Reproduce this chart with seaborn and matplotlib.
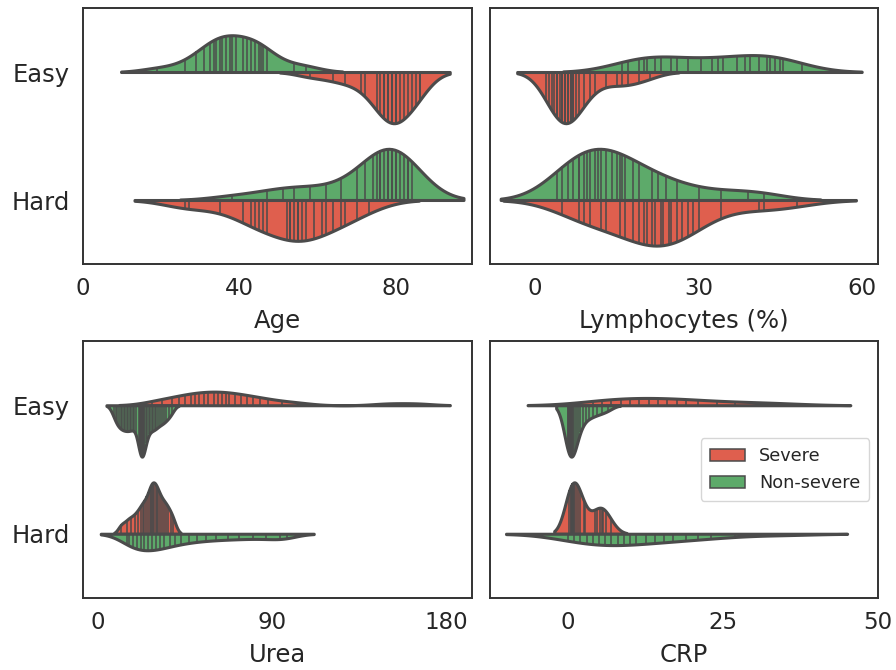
import matplotlib
matplotlib.use("Agg")
import matplotlib.pyplot as plt
from matplotlib.patches import Patch
import pandas as pd
import seaborn as sns

sns.set_theme(style="white", font_scale=1.5)
plt.rcParams['font.family'] = ['DejaVu Sans']

categories = ["Easy", "Hard"]
severity_levels = ["Severe", "Non-severe"]
colors = {"Severe": "#DF5F4E", "Non-severe": "#5DAA6A"}
line_gray = "#4b4b4b"

# Age
age_easy_nonsevere = [19, 26, 29, 31, 32.5, 33.5, 34, 35, 35.5, 36.5, 37.5, 38, 39, 41, 42, 43, 44, 45, 45.5, 46, 47, 54, 57]
age_easy_severe = [58, 64, 67, 71, 72, 75, 76, 77, 77, 78, 78, 79, 79, 80, 80, 81, 82, 83, 84, 85, 86, 86]
age_hard_nonsevere = [38, 47, 51, 54, 58, 62, 66, 70, 72, 74, 75, 76, 76, 77, 78, 78, 79, 79, 80, 80, 81, 82, 83, 83, 84]
age_hard_severe = [26, 27, 35, 41, 43, 44, 45, 46, 47, 52, 53, 53, 54, 55, 55, 56, 57, 59, 61, 62, 64, 66, 67, 70, 73]

# Lymphocytes (%)
lym_easy_nonsevere = [16, 17, 19, 20, 20.5, 22, 23, 25, 26, 28, 30.5, 32.5, 33.5, 34.5, 37, 38.5, 39.5, 41, 42.5, 43, 44, 45, 45.5, 49]
lym_easy_severe = [2, 2.5, 3, 3.5, 4, 4, 4.5, 5, 5, 5.5, 5.5, 6, 6, 6.5, 6.5, 7, 7, 7.5, 8, 9, 10, 11, 13, 15, 16, 17, 19, 21]
lym_hard_nonsevere = [4, 5, 6, 7, 8, 8, 9, 9.5, 10, 11, 11.5, 12, 13, 14, 15, 15.5, 16, 16.5, 18, 19, 21.5, 22.5, 24, 26, 30, 34, 39, 42]
lym_hard_severe = [5, 8, 9, 10, 12, 13, 15.5, 16.5, 18, 19, 20, 20.5, 21.5, 22, 23, 23.5, 24.5, 25, 26, 27, 28, 29, 30, 34, 41, 42, 48]

# Urea
urea_easy_severe = [28, 33, 38, 42, 45, 48, 50, 52, 55, 57, 60, 62, 64, 66, 68, 71, 74, 77, 80, 84, 88, 95, 104, 150, 165]
urea_easy_nonsevere = [8, 9.5, 10, 11, 12, 12.5, 13.5, 14, 15, 15.5, 16.5, 17, 18, 18.5, 19.5,
                       21, 21.5, 21.8, 22, 22.2, 22.4, 22.6, 22.8, 23, 23.3, 23.6, 24,
                       25, 25.5, 26.5, 27, 28, 28.5, 29.5, 30, 31, 32, 33, 34, 35, 36.5, 38]
urea_hard_severe = [12, 15, 17, 19, 20.5, 22, 23, 24, 25, 26, 27, 27.5, 28, 28.5, 29, 30, 30.5, 31, 32, 33, 34, 35, 36, 37.5, 39]
urea_hard_nonsevere = [15, 16, 18, 20, 22, 24, 26, 28, 30, 32, 34, 37, 40, 43, 47, 51, 56, 61, 67, 73, 80, 87, 94, 98]

# CRP
crp_easy_severe = [4, 5.5, 7, 8.5, 10, 11.5, 13, 14.5, 16, 17.5, 19, 21, 24, 27, 31, 35]
crp_easy_nonsevere = [0, 0, 0.1, 0.1, 0.2, 0.2, 0.3, 0.3, 0.4, 0.4, 0.5, 0.5, 0.6, 0.7, 0.8, 1.0,
                      1.3, 1.6, 2.0, 2.4, 2.9, 3.4, 4.0, 4.7, 5.5, 6.5]
crp_hard_severe = [0.2, 0.4, 0.5, 0.6, 0.7, 0.7, 0.8, 0.9, 1.0, 1.2, 1.6, 2.0, 2.5, 2.8, 4.4, 4.7, 5.1, 5.4, 5.6, 6.1, 7.0]
crp_hard_nonsevere = [0, 1, 2, 3, 4, 5, 6, 7, 8, 9, 10, 11, 12.5, 14, 15.5, 17, 19, 21, 23, 27, 35]

x_labels = ["Age", "Lymphocytes (%)", "Urea", "CRP"]
x_ticks = [[0, 40, 80], [0, 30, 60], [0, 90, 180], [0, 25, 50]]
x_limits = [(0, 99.4), (-8.3, 62.9), (-7.8, 193.5), (-12.6, 50)]


def make_frame(easy_sev, easy_non, hard_sev, hard_non):
    rows = []
    for cat, sev, vals in [("Easy", "Severe", easy_sev), ("Easy", "Non-severe", easy_non),
                           ("Hard", "Severe", hard_sev), ("Hard", "Non-severe", hard_non)]:
        rows += [(cat, sev, v) for v in vals]
    return pd.DataFrame(rows, columns=["Group", "Severity", "value"])


frames = [
    make_frame(age_easy_severe, age_easy_nonsevere, age_hard_severe, age_hard_nonsevere),
    make_frame(lym_easy_severe, lym_easy_nonsevere, lym_hard_severe, lym_hard_nonsevere),
    make_frame(urea_easy_severe, urea_easy_nonsevere, urea_hard_severe, urea_hard_nonsevere),
    make_frame(crp_easy_severe, crp_easy_nonsevere, crp_hard_severe, crp_hard_nonsevere),
]
hue_orders = [["Non-severe", "Severe"], ["Non-severe", "Severe"],
              ["Severe", "Non-severe"], ["Severe", "Non-severe"]]
bw_adjusts = [1.0, 1.0, 0.5, 1.0]

fig = plt.figure(figsize=(8.96, 6.7), dpi=100)
W, H = 896, 670
boxes = [(83, 8, 472, 264), (490, 8, 878, 264), (83, 341, 472, 598), (490, 341, 878, 598)]
axes = [fig.add_axes([l / W, 1 - b / H, (r - l) / W, (b - t) / H]) for (l, t, r, b) in boxes]

for i, ax in enumerate(axes):
    df = frames[i]
    for cat in categories:
        # both halves of one category share a common density scale
        sns.violinplot(data=df[df["Group"] == cat], x="value", y="Group", hue="Severity",
                       order=categories, hue_order=hue_orders[i], split=True,
                       inner="stick", palette=colors, saturation=1, linewidth=2.2,
                       linecolor=line_gray, bw_adjust=bw_adjusts[i], common_norm=True,
                       legend=False, ax=ax)
    ax.set_xlim(*x_limits[i])
    ax.set_xticks(x_ticks[i])
    ax.set_xlabel(x_labels[i], fontsize=17.5, labelpad=6)
    ax.set_ylabel("")
    ax.set_ylim(1.5, -0.5)
    ax.tick_params(axis="x", labelsize=16.5)
    ax.tick_params(axis="y", labelsize=17.5)
    if i % 2 == 1:
        ax.set_yticklabels([])
    for s in ax.spines.values():
        s.set_color("#333333")
        s.set_linewidth(1.4)

handles = [Patch(facecolor=colors[s], edgecolor=line_gray, linewidth=1.1) for s in severity_levels]
axes[3].legend(handles, severity_levels, loc="center right", fontsize=12.7, frameon=True,
               handlelength=2.0, borderpad=0.5)

fig.savefig("out.png", dpi=100)
